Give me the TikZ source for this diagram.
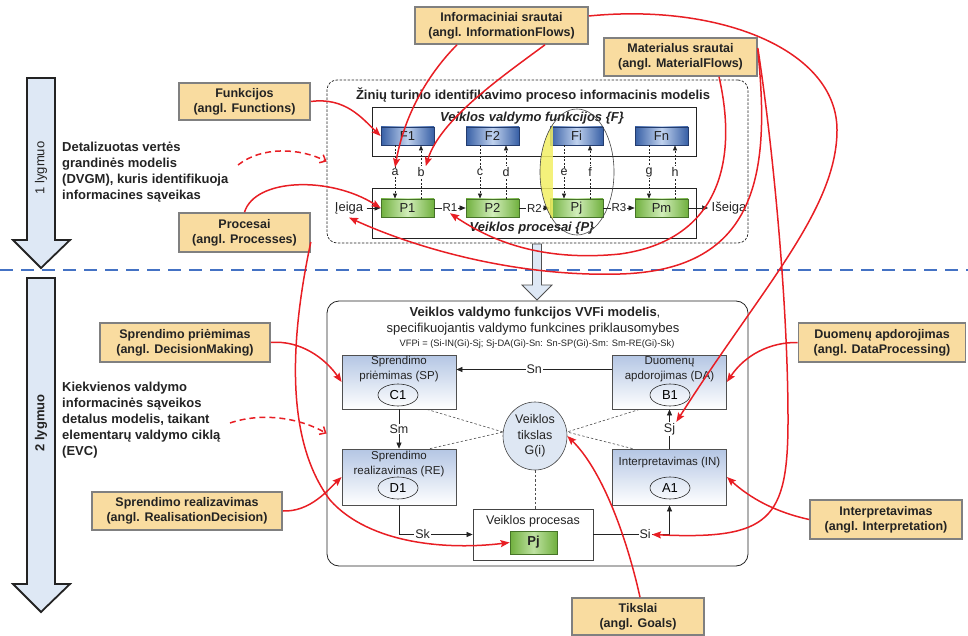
\documentclass[tikz,border=0pt]{standalone}
\usepackage{fontspec}
\setmainfont{Liberation Sans}
\usetikzlibrary{arrows.meta,shapes.geometric,calc}

\definecolor{lblfill}{RGB}{249,220,160}
\definecolor{lblborder}{RGB}{128,128,128}
\definecolor{redl}{RGB}{232,30,36}
\definecolor{blued}{RGB}{68,114,196}
\definecolor{arrfill}{RGB}{222,232,245}
\definecolor{fedge}{RGB}{55,95,165}
\definecolor{fmid}{RGB}{192,210,238}
\definecolor{fborder}{RGB}{35,60,110}
\definecolor{pedge}{RGB}{112,176,62}
\definecolor{pmid}{RGB}{210,238,186}
\definecolor{pborder}{RGB}{70,115,40}
\definecolor{boxtop}{RGB}{180,198,228}
\definecolor{gfill}{RGB}{222,231,243}
\definecolor{txt}{RGB}{35,35,35}
\definecolor{yellowhl}{RGB}{242,238,100}

\tikzset{
  lbl/.style={draw=lblborder, line width=1.6pt, fill=lblfill, align=center,
    font=\fontsize{12.5}{15}\selectfont\bfseries, text=txt, inner sep=0pt},
  fbx/.style={draw=fborder, line width=0.8pt, left color=fedge, right color=fedge,
    middle color=fmid, minimum width=53pt, minimum height=18pt, inner sep=0pt,
    font=\fontsize{13}{13}\selectfont, text=txt},
  pbx/.style={draw=pborder, line width=0.8pt, left color=pedge, right color=pedge,
    middle color=pmid, minimum width=53pt, minimum height=18pt, inner sep=0pt,
    font=\fontsize{13}{13}\selectfont, text=txt},
  setbox/.style={draw=txt, line width=0.8pt, inner sep=0pt},
  dashbox/.style={draw=txt, line width=0.7pt, dash pattern=on 2.5pt off 1.5pt,
    rounded corners=10pt, inner sep=0pt},
  cbox/.style={draw=txt!80, line width=0.8pt, top color=boxtop, bottom color=white,
    minimum width=114pt, inner sep=0pt},
  inell/.style={ellipse, draw=txt, line width=0.6pt, minimum width=40pt,
    minimum height=22pt, inner sep=0pt, font=\fontsize{13}{13}\selectfont},
  blk/.style={draw=txt, line width=0.6pt, -{Triangle[length=6pt,width=5pt]}},
  dashc/.style={draw=txt, line width=0.6pt, dash pattern=on 2pt off 1.5pt,
    -{Triangle[length=5pt,width=4pt]}},
  gdash/.style={draw=txt!80, line width=0.6pt, dash pattern=on 2.5pt off 2pt},
  small/.style={fill=white, inner sep=1pt, font=\fontsize{12.5}{13}\selectfont, text=txt},
  redarr/.style={draw=redl, line width=1.5pt, -{Stealth[length=9pt,width=7pt,inset=1.5pt]}},
  reddash/.style={draw=redl, line width=1.5pt, dash pattern=on 6pt off 4pt,
    -{Straight Barb[length=5pt,width=9pt]}},
  bigarr/.style={draw=txt, line width=1.8pt, fill=arrfill, line join=miter},
  lefttext/.style={anchor=north west, align=left, inner sep=0pt, text=txt,
    font=\fontsize{13}{16}\selectfont\bfseries},
}

\begin{document}
\begin{tikzpicture}[x=1pt,y=-1pt]
\useasboundingbox (0,0) rectangle (968,636);

% ---- level arrows and separator
\draw[bigarr] (27,78) -- (55,78) -- (55,240) -- (70,240) -- (41,268) -- (13,240) -- (27,240) -- cycle;
\draw[bigarr] (27,278) -- (55,278) -- (55,584) -- (70,584) -- (41,612) -- (13,584) -- (27,584) -- cycle;
\node[rotate=90, font=\fontsize{13}{13}\selectfont, text=txt] (lv1) at (41,168) {1 lygmuo};
\node[rotate=90, font=\fontsize{13}{13}\selectfont\bfseries, text=txt] (lv2) at (41,423) {2 lygmuo};
\draw[blued, line width=2.6pt, dash pattern=on 13pt off 8pt] (0,270) -- (968,270);

\node[lefttext] (t1) at (62,142) {Detalizuotas vertės\\grandinės modelis\\(DVGM), kuris identifikuoja\\informacines sąveikas};
\node[lefttext] (t2) at (62,382) {Kiekvienos valdymo\\informacinės sąveikos\\detalus modelis, taikant\\elementarų valdymo ciklą\\(EVC)};

% ---- label boxes
\node[lbl, minimum width=131pt, minimum height=37pt] (funk) at (244.5,101.5) {Funkcijos\\(angl. Functions)};
\node[lbl, minimum width=131pt, minimum height=39pt] (proc) at (244.5,232.5) {Procesai\\(angl. Processes)};
\node[lbl, minimum width=173pt, minimum height=37pt] (info) at (501.5,25.5) {Informaciniai srautai\\(angl. InformationFlows)};
\node[lbl, minimum width=153pt, minimum height=38pt] (mat) at (680.5,57) {Materialus srautai\\(angl. MaterialFlows)};
\node[lbl, minimum width=170pt, minimum height=39pt] (spr) at (185,342.5) {Sprendimo priėmimas\\(angl. DecisionMaking)};
\node[lbl, minimum width=190pt, minimum height=38pt] (sre) at (187,511) {Sprendimo realizavimas\\(angl. RealisationDecision)};
\node[lbl, minimum width=167pt, minimum height=39pt] (duom) at (882,342.5) {Duomenų apdorojimas\\(angl. DataProcessing)};
\node[lbl, minimum width=152pt, minimum height=39pt] (interp) at (886,519.5) {Interpretavimas\\(angl. Interpretation)};
\node[lbl, minimum width=132pt, minimum height=37pt] (tiks) at (638,616.5) {Tikslai\\(angl. Goals)};

% ---- level 1 model
\node[dashbox, minimum width=421pt, minimum height=163pt] (top) at (537.5,161.5) {};
\node[font=\fontsize{13}{13}\selectfont\bfseries, text=txt] (toptitle) at (533,95) {Žinių turinio identifikavimo proceso informacinis modelis};
\node[setbox, minimum width=324pt, minimum height=49pt] (fset) at (534,131.5) {};
\node[setbox, minimum width=324pt, minimum height=50pt] (pset) at (534,213) {};
\node[font=\fontsize{13}{13}\selectfont\bfseries\itshape, text=txt] (ftitle) at (532,118) {Veiklos valdymo funkcijos \{F\}};
\node[font=\fontsize{13}{13}\selectfont\bfseries\itshape, text=txt] (ptitle) at (532,228) {Veiklos procesai \{P\}};

\foreach \n/\xx in {F1/407.5, F2/492.5, Fi/576.5, Fn/661.5}
  \node[fbx] (\n) at (\xx,136) {\n};
\foreach \n/\xx in {P1/407.5, P2/492.5, Pj/576.5, Pm/661.5}
  \node[pbx] (\n) at (\xx,208) {\n};

\foreach \f/\p/\d/\u in {F1/P1/a/b, F2/P2/c/d, Fi/Pj/e/f, Fn/Pm/g/h} {
  \draw[dashc] ([xshift=-12.5pt]\f.south) -- node[small] (l\d) {\d} ([xshift=-12.5pt]\p.north);
  \draw[dashc] ([xshift=13.5pt]\p.north) -- node[small] (l\u) {\u} ([xshift=13.5pt]\f.south);
}

\node[font=\fontsize{13}{13}\selectfont, text=txt] (ieiga) at (349,208) {Įeiga};
\node[font=\fontsize{13}{13}\selectfont, text=txt] (iseiga) at (729,208) {Išeiga};
\draw[blk] (ieiga) -- (P1);
\draw[blk] (P1) -- node[small, font=\fontsize{11.5}{12}\selectfont] (r1) {R1} (P2);
\draw[blk] (P2) -- node[small, font=\fontsize{11.5}{12}\selectfont] (r2) {R2} (Pj);
\draw[blk] (Pj) -- node[small, font=\fontsize{11.5}{12}\selectfont] (r3) {R3} (Pm);
\draw[blk] (Pm) -- (iseiga);

\node[ellipse, draw=txt!85, line width=0.6pt, minimum width=74pt, minimum height=126pt, inner sep=0pt,
  path picture={\fill[yellowhl, opacity=0.85] (path picture bounding box.south west) rectangle ([xshift=-24pt]path picture bounding box.north);}]
  (fpe) at (577,172) {};

% ---- transition arrow
\draw[draw=txt!80, line width=0.8pt, fill=arrfill] (532.5,244) -- (541.5,244) -- (541.5,285) -- (552,285) -- (537,300) -- (522,285) -- (532.5,285) -- cycle;

% ---- level 2 model
\node[draw=txt, line width=0.8pt, rounded corners=12pt, minimum width=421pt, minimum height=265pt, inner sep=0pt] (lev2) at (537.5,433.5) {};
\node[font=\fontsize{13}{13}\selectfont, text=txt] (l2t1) at (535,313) {\textbf{Veiklos valdymo funkcijos VVFi modelis},};
\node[font=\fontsize{13}{13}\selectfont, text=txt] (l2t2) at (533,329) {specifikuojantis valdymo funkcines priklausomybes};
\node[font=\fontsize{9.3}{11}\selectfont, text=txt] (l2t3) at (537,344) {VFPi = (Si-IN(Gi)-Sj; Sj-DA(Gi)-Sn: Sn-SP(Gi)-Sm: Sm-RE(Gi)-Sk)};

\node[cbox, minimum height=54pt] (SP) at (399,382) {};
\node[cbox, minimum height=54pt] (DA) at (669.5,382) {};
\node[cbox, minimum height=56pt] (RE) at (399,477) {};
\node[cbox, minimum height=56pt] (IN) at (669.5,477) {};

\node[align=center, font=\fontsize{11.5}{15}\selectfont, text=txt] (SPt) at (399,369.5) {Sprendimo\\priėmimas (SP)};
\node[align=center, font=\fontsize{11.5}{15}\selectfont, text=txt] (DAt) at (669.5,369.5) {Duomenų\\apdorojimas (DA)};
\node[align=center, font=\fontsize{11.5}{15}\selectfont, text=txt] (REt) at (399,464.5) {Sprendimo\\realizavimas (RE)};
\node[align=center, font=\fontsize{11.5}{15}\selectfont, text=txt] (INt) at (669.5,463) {Interpretavimas (IN)};
\node[inell] (C1) at (398,395) {C1};
\node[inell] (B1) at (670,395) {B1};
\node[inell] (D1) at (398,488) {D1};
\node[inell] (A1) at (670,488) {A1};

\node[draw=txt!85, line width=0.8pt, fill=white, minimum width=120pt, minimum height=51pt, inner sep=0pt] (vp) at (533,534.5) {};
\node[font=\fontsize{12.5}{13}\selectfont, text=txt] (vpt) at (533,521) {Veiklos procesas};
\node[draw=pborder, line width=0.8pt, left color=pedge, right color=pedge, middle color=pmid!80!pedge,
  minimum width=47pt, minimum height=23pt, inner sep=0pt, font=\fontsize{13}{13}\selectfont\bfseries, text=txt] (pj2) at (533.5,542.5) {Pj};

\draw[gdash] ([xshift=28pt]SP.south) -- (503,432);
\draw[gdash] ([xshift=31pt]RE.north) -- (503,432);
\draw[gdash] ([xshift=-30pt]DA.south) -- (567,432);
\draw[gdash] ([xshift=-37pt]IN.north) -- (567,432);
\node[ellipse, draw=txt!85, line width=0.6pt, fill=gfill, minimum width=64pt, minimum height=68pt, inner sep=0pt,
  align=center, font=\fontsize{12.5}{15.5}\selectfont, text=txt] (G) at (535,436) {Veiklos\\tikslas\\G(i)};
\draw[gdash] (G.south) -- (G.south |- vp.north);

\draw[blk] ([yshift=12.5pt]DA.west) -- node[small] (sn) {Sn} ([yshift=12.5pt]SP.east);
\draw[blk] (SP.south) -- node[small] (sm) {Sm} (RE.north);
\draw[blk] (IN.north) -- node[small] (sj) {Sj} (DA.south);
\draw[blk] (RE.south) |- node[small, pos=0.66] (sk) {Sk} (vp.west);
\draw[blk] (vp.east) -| node[small, pos=0.34] (si) {Si} (IN.south);

% ---- red annotation curves
\draw[redarr] (funk.east) .. controls (345,97) and (362,118) .. (F1.west);
\draw[redarr] (proc.north) .. controls (255,178) and (330,176) .. (P1.west);
\draw[redarr] ([yshift=-9.5pt]proc.east) .. controls (290,340) and (285,440) .. (330,500)
   .. controls (370,545) and (450,550) .. (pj2.west);
\draw[redarr] (spr.east) .. controls (300,340) and (325,358) .. (SP.west);
\draw[redarr] (sre.east) .. controls (310,512) and (328,490) .. (RE.west);
\draw[redarr] ([xshift=-44.5pt]info.south) .. controls (430,72) and (405,112) .. (la.north);
\draw[redarr] ([xshift=43.5pt]info.south) .. controls (500,78) and (440,120) .. (lb.north east);
\draw[redarr] ([yshift=9.5pt]info.east) .. controls (720,3) and (837,50) .. (837,130)
   .. controls (837,210) and (760,290) .. (sj.north east);
\draw[redarr] ([xshift=38.5pt]mat.south) .. controls (738,160) and (720,240) .. (620,254)
   .. controls (540,262) and (490,240) .. (r1.south);
\draw[redarr] ([yshift=7pt]mat.east) .. controls (770,170) and (760,270) .. (620,274)
   .. controls (520,277) and (420,250) .. (ieiga.south);
\draw[redarr] ([yshift=9pt]mat.east) .. controls (772,140) and (788,300) .. (788,420)
   .. controls (788,520) and (770,540) .. (si.east);
\draw[redarr] (duom.west) .. controls (770,342) and (745,355) .. (DA.east);
\draw[redarr] (interp.west) .. controls (775,512) and (750,498) .. (IN.east);
\draw[redarr] ([xshift=2pt]tiks.north) .. controls (625,530) and (600,468) .. (G.east);

\coordinate (d1s) at (238,165);
\coordinate (d2s) at (230,423);
\draw[reddash] (d1s) .. controls (262,146) and (300,148) .. (top.west);
\draw[reddash] (d2s) .. controls (262,412) and (300,418) .. (lev2.west);
\end{tikzpicture}
\end{document}
